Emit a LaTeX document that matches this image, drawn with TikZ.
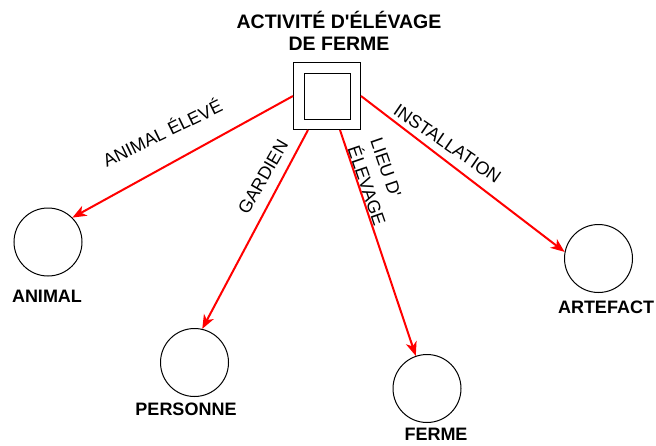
\documentclass[tikz,border=0pt]{standalone}
\usepackage{fontspec}
\newfontfamily\schemafont{Liberation Sans}
\usetikzlibrary{arrows.meta}

\begin{document}
\begin{tikzpicture}[x=1pt,y=-1pt,
    entite/.style={draw,circle,minimum size=68pt,inner sep=0pt,line width=1pt},
    nom/.style={font=\schemafont\fontsize{18}{22}\selectfont\bfseries,inner sep=0pt},
    role/.style={font=\schemafont\fontsize{18}{24}\selectfont,inner sep=0pt},
    lien/.style={draw=red,line width=2pt,-{Stealth[length=14pt,width=11pt,inset=4pt]}}]
    \useasboundingbox (0,0) rectangle (656,445);

    % Activité
    \node[draw,minimum size=67pt,line width=1pt,inner sep=0pt] (act) at (327,96) {};
    \node[draw,minimum size=46pt,line width=1pt,inner sep=0pt] (actint) at (act.center) {};
    \node[nom,font=\schemafont\fontsize{19.5}{22}\selectfont\bfseries,align=center] (titre) at (339,31) {ACTIVITÉ D'ÉLÉVAGE\\DE FERME};

    % Entités
    \node[entite] (animal) at (48,242) {};
    \node[entite] (personne) at (194.5,362.5) {};
    \node[entite] (ferme) at (427,388.5) {};
    \node[entite] (artefact) at (598.5,258.5) {};

    % Noms des entités
    \node[nom] (nanimal) at (47,296) {ANIMAL};
    \node[nom] (npersonne) at (186,409) {PERSONNE};
    \node[nom] (nferme) at (436,434) {FERME};
    \node[nom] (nartefact) at (606,307) {ARTEFACT};

    % Liens
    \draw[lien] (act.west) -- (animal.45);
    \draw[lien] ([xshift=-19pt]act.south) -- (personne.77);
    \draw[lien] ([xshift=13pt]act.south) -- (ferme.109);
    \draw[lien] (act.east) -- (artefact.169);

    % Rôles
    \node[role,rotate=26] (ranimal) at (162,132) {ANIMAL ÉLEVÉ};
    \node[role,rotate=60] (rgardien) at (263,177) {GARDIEN};
    \node[role,rotate=-71,align=left] (rlieu) at (378,182) {LIEU D'\\ÉLEVAGE};
    \node[role,rotate=-34.5] (rinstall) at (447.5,143.7) {INSTALLATION};
\end{tikzpicture}
\end{document}
